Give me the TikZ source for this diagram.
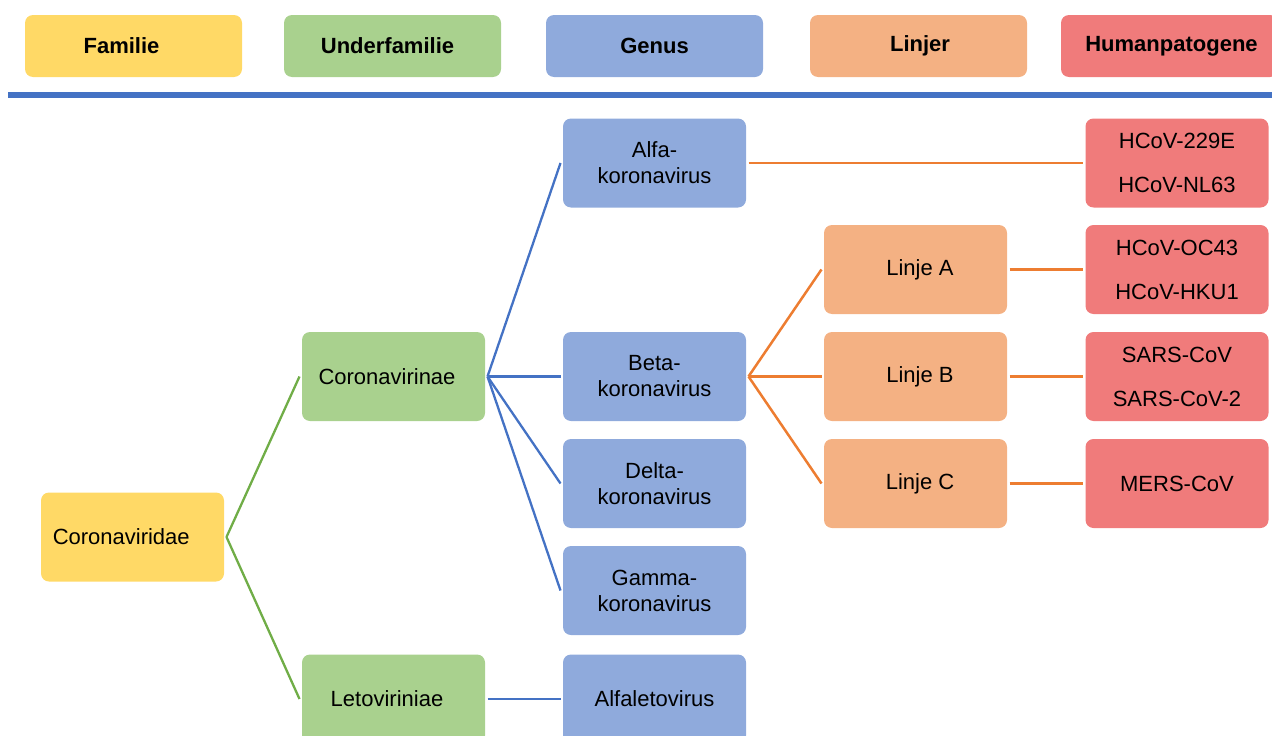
\documentclass[tikz,border=0pt]{standalone}
\usepackage{fontspec}
\setmainfont{Liberation Sans}
\usepackage{xcolor}
\definecolor{famfill}{HTML}{FFD966}
\definecolor{subfill}{HTML}{A9D18E}
\definecolor{genfill}{HTML}{8FAADC}
\definecolor{linfill}{HTML}{F4B183}
\definecolor{humfill}{HTML}{F07B7B}
\definecolor{greenln}{HTML}{70AD47}
\definecolor{blueln}{HTML}{4472C4}
\definecolor{orangeln}{HTML}{ED7D31}
\usepackage{tikz}
\usetikzlibrary{positioning,calc}

\begin{document}
\begin{tikzpicture}[x=1pt,y=-1pt,
      box/.style={rectangle,rounded corners=8pt,minimum width=183pt,minimum height=89pt,
        inner sep=0pt,outer sep=2.5pt,font=\fontsize{22}{26}\selectfont},
      head/.style={rectangle,rounded corners=8pt,minimum width=217pt,minimum height=62pt,
        inner sep=0pt,font=\fontsize{22}{26}\selectfont\bfseries},
      fam/.style={box,fill=famfill},
      sub/.style={box,fill=subfill},
      gen/.style={box,fill=genfill,align=center},
      lin/.style={box,fill=linfill},
      hum/.style={box,fill=humfill,align=center,font=\fontsize{22}{44}\selectfont},
      glink/.style={greenln,line width=2.3pt},
      blink/.style={blueln,line width=2.3pt},
      olink/.style={orangeln,line width=2.5pt}]
    \useasboundingbox (0,0) rectangle (1272,736);
    \clip (0,0) rectangle (1272,736);
    % header row
    \node[head,fill=famfill] (hfam) at (133.5,46) {Familie\hspace*{24pt}};
    \node[head,fill=subfill] (hsub) at (392.5,46) {Underfamilie\hspace*{10pt}};
    \node[head,fill=genfill] (hgen) at (654.5,46) {Genus};
    \node[head,fill=linfill] (hlin) at (918.5,46) {\hspace*{3pt}Linjer};
    \node[head,fill=humfill] (hhum) at (1169.5,46) {\hspace*{4pt}Humanpatogene};
    \draw[blueln,line width=6pt] (8,94.5) -- (1272,94.5);
    % family and subfamilies
    \node[fam,text width=159.5pt,align=left,inner xsep=11.75pt] (corviridae) at (132.5,537) {Coronaviridae};
    \node[sub] (corvirinae) at (393.5,376.5) {Coronavirinae\hspace*{13pt}};
    \node[sub] (letovir) at (393.5,699) {Letoviriniae\hspace*{13pt}};
    % genera
    \node[gen] (alfa) at (654.5,163) {Alfa-\\koronavirus};
    \node[gen] (beta) at (654.5,376.5) {Beta-\\koronavirus};
    \node[gen] (delta) at (654.5,483.5) {Delta-\\koronavirus};
    \node[gen] (gamma) at (654.5,590.5) {Gamma-\\koronavirus};
    \node[gen] (alfaleto) at (654.5,699) {Alfaletovirus};
    % lineages
    \node[lin] (linA) at (915.5,269.5) {\hspace*{9pt}Linje A};
    \node[lin] (linB) at (915.5,376.5) {\hspace*{9pt}Linje B};
    \node[lin] (linC) at (915.5,483.5) {\hspace*{9pt}Linje C};
    % human pathogens
    \node[hum] (hcovA) at (1177,163) {HCoV-229E\\HCoV-NL63};
    \node[hum] (hcovB) at (1177,269.5) {HCoV-OC43\\HCoV-HKU1};
    \node[hum] (sars) at (1177,376.5) {SARS-CoV\\SARS-CoV-2};
    \node[hum] (mers) at (1177,483.5) {MERS-CoV};
    % connections
    \foreach \n in {corvirinae,letovir} \draw[glink] (corviridae.east) -- (\n.west);
    \foreach \n in {alfa,beta,delta,gamma} \draw[blink] (corvirinae.east) -- (\n.west);
    \draw[blink] (letovir.east) -- (alfaleto.west);
    \foreach \n in {linA,linB,linC} \draw[olink] (beta.east) -- (\n.west);
    \draw[olink] (alfa.east) -- (hcovA.west);
    \draw[olink] (linA.east) -- (hcovB.west);
    \draw[olink] (linB.east) -- (sars.west);
    \draw[olink] (linC.east) -- (mers.west);
  \end{tikzpicture}
\end{document}
